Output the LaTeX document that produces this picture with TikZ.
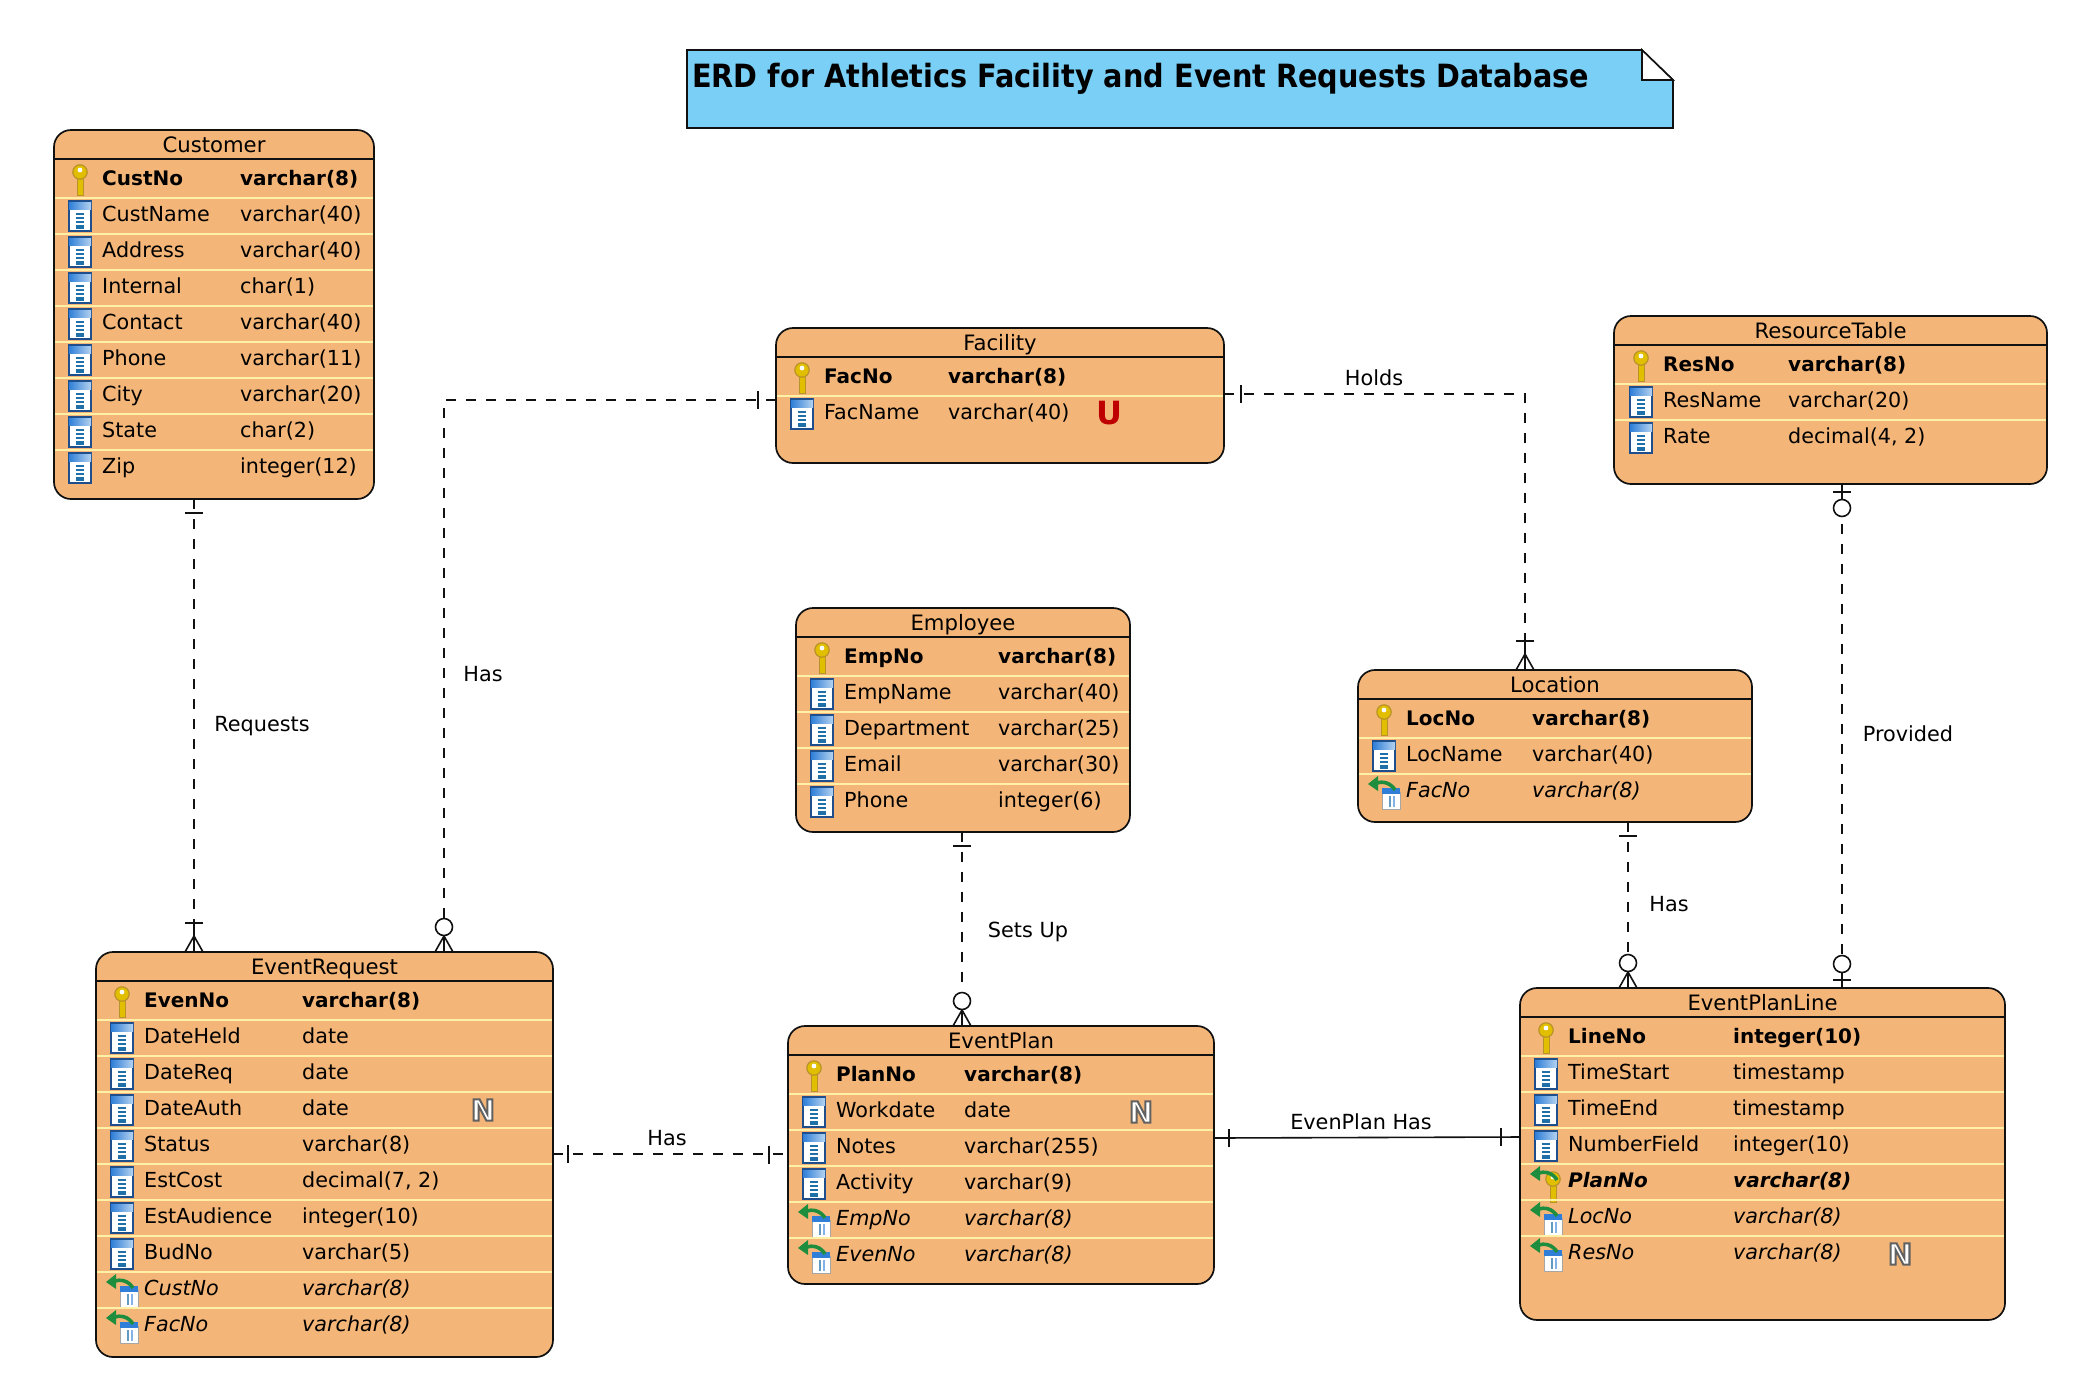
\documentclass[tikz,border=0pt]{standalone}
\usepackage{fontspec}
\setmainfont{DejaVu Sans}
\definecolor{tabfill}{HTML}{F4B678}
\definecolor{rowline}{HTML}{FFF0A8}
\definecolor{notefill}{HTML}{79CFF6}
\definecolor{inkline}{HTML}{111111}
\definecolor{iconblue}{HTML}{1F4E8C}
\definecolor{iconsky}{HTML}{2F7FD8}
\definecolor{iconpale}{HTML}{B4D2F0}
\definecolor{stripe}{HTML}{1F6FA8}
\definecolor{gold}{HTML}{E2BE00}
\definecolor{goldedge}{HTML}{B8922A}
\definecolor{leaf}{HTML}{1E8E3E}
\newcommand\rowfont{\fontsize{20.7}{24}\selectfont}
\newcommand\boldrowfont{\bfseries\fontsize{20}{24}\selectfont}
\newcommand\nullmark{\special{pdf:code q 2 Tr 2 w 0.38 0.38 0.38 RG 1 1 1 rg}N\special{pdf:code Q}}
\tikzset{
  x=1pt,y=-1pt,
  etable/.style={draw=inkline,line width=1.7pt,fill=tabfill,rounded corners=17pt,inner sep=0pt,outer sep=0pt},
  pk txt/.style={font=\boldrowfont,inner sep=0pt,text=black},
  col txt/.style={font=\rowfont,inner sep=0pt,text=black},
  fk txt/.style={font=\rowfont\itshape,inner sep=0pt,text=black},
  fkpk txt/.style={font=\boldrowfont\itshape,inner sep=0pt,text=black},
  hd txt/.style={font=\fontsize{21.2}{24}\selectfont,inner sep=0pt,text=black},
  lab/.style={font=\fontsize{20.8}{24}\selectfont,inner sep=0pt,text=black},
  conn/.style={draw=inkline,line width=1.6pt,dash pattern=on 10pt off 10pt},
  solidconn/.style={draw=inkline,line width=1.6pt},
  endmark/.style={draw=inkline,line width=1.6pt},
  pics/keyicon/.style={code={
    \fill[gold,draw=goldedge,line width=1pt] (-3,-8) rectangle (3,9);
    \fill[gold,draw=goldedge,line width=1.2pt] (0,-14) circle[radius=7.2];
    \fill[white] (0,-16) circle[radius=2.4];
  }},
  pics/pk/.style={code={\pic at (-22,0) {keyicon};}},
  pics/col/.style={code={
    \fill[white,draw=iconblue,line width=1.8pt] (-33,-21) rectangle (-11,9);
    \shade[left color=iconsky,right color=iconpale] (-33,-21) rectangle (-11,-13);
    \draw[iconblue,line width=1.2pt] (-33,-21) -- (-11,-21);
    \foreach \yy in {-9,-5,-1}{\fill[stripe] (-26,\yy) rectangle (-18,\yy+2);}
    \fill[stripe] (-26,3) rectangle (-18,7);
  }},
  pics/fkarrow/.style={code={
    \draw[leaf,line width=3.6pt] (-31,-14) .. controls (-24,-18) and (-15,-15) .. (-11,-8);
    \fill[leaf] (-38,-14) -- (-28,-22) -- (-28,-7) -- cycle;
  }},
  pics/fk/.style={code={
    \fill[white,draw=gray!70,line width=.8pt] (-24,-6) rectangle (-6,11);
    \fill[iconsky] (-24,-10) rectangle (-6,-4);
    \fill[stripe!70] (-17,-2) rectangle (-15,9);
    \fill[iconsky!60] (-13,-2) rectangle (-11,9);
    \pic {fkarrow};
  }},
  pics/fkpk/.style={code={
    \pic at (-15,5) {keyicon};
    \pic {fkarrow};
  }},
  pics/onebar/.style={code={\draw[endmark] (-9,14) -- (9,14);}},
  pics/zeroone/.style={code={
    \draw[endmark] (0,0) -- (0,16);
    \draw[endmark] (-9,8) -- (9,8);
    \draw[endmark,fill=white] (0,24) circle[radius=8.5];
  }},
  pics/onemany/.style={code={
    \draw[endmark] (-9,0) -- (0,16) -- (9,0);
    \draw[endmark] (0,0) -- (0,29);
    \draw[endmark] (-9,29) -- (9,29);
  }},
  pics/zeromany/.style={code={
    \draw[endmark] (-9,0) -- (0,16) -- (9,0);
    \draw[endmark] (0,0) -- (0,16);
    \draw[endmark,fill=white] (0,25) circle[radius=8.5];
  }},
}
% name, left, top, right, bottom, title, text x, type x, rows
\newcommand\ertable[9]{%
  \pgfmathsetmacro\cxx{(#2+#4)/2}\pgfmathsetmacro\cyy{(#3+#5)/2}%
  \pgfmathsetmacro\ww{#4-#2}\pgfmathsetmacro\hh{#5-#3}%
  \node[etable,minimum width=\ww pt,minimum height=\hh pt] (#1) at (\cxx,\cyy) {};
  \draw[inkline,line width=1.6pt] (#2,#3+29) -- (#4,#3+29);
  \node[hd txt,anchor=base] (#1-title) at (\cxx,#3+22) {#6};
  \foreach \k/\n/\t [count=\i] in {#9}{
    \pgfmathsetmacro\by{#3+55+36*(\i-1)}
    \pgfmathsetmacro\dy{#3+68+36*(\i-2)}
    \ifnum\i>1 \draw[rowline,line width=2pt] (#2+1,\dy) -- (#4-1,\dy);\fi
    \pic at (#7,\by+1) {\k};
    \node[\k\space txt,anchor=base west] (#1-n\i) at (#7,\by) {\n};
    \node[\k\space txt,anchor=base west] (#1-t\i) at (#8,\by) {\t};
  }
}
\begin{document}
\begin{tikzpicture}
\useasboundingbox (0,0) rectangle (2092,1382);
\fill[white] (0,0) rectangle (2092,1382);

% title note
\draw[inkline,line width=1.6pt,fill=notefill] (687,50) -- (1642,50) -- (1673,80) -- (1673,128) -- (687,128) -- cycle;
\draw[inkline,line width=1.6pt,fill=white] (1642,50) -- (1673,80) -- (1642,80) -- cycle;
\node[anchor=base west,inner sep=0pt,text=black] (title) at (692,87) {\resizebox{897pt}{\height}{\bfseries\fontsize{32}{36}\selectfont ERD for Athletics Facility and Event Requests Database}};

\ertable{cust}{54}{130}{374}{499}{Customer}{102}{240}{pk/CustNo/varchar(8),col/CustName/varchar(40),col/Address/varchar(40),col/Internal/char(1),col/Contact/varchar(40),col/Phone/varchar(11),col/City/varchar(20),col/State/char(2),col/Zip/integer(12)}
\ertable{fac}{776}{328}{1224}{463}{Facility}{824}{948}{pk/FacNo/varchar(8),col/FacName/varchar(40)}
\ertable{res}{1614}{316}{2047}{484}{ResourceTable}{1663}{1788}{pk/ResNo/varchar(8),col/ResName/varchar(20),col/Rate/{decimal(4, 2)}}
\ertable{emp}{796}{608}{1130}{832}{Employee}{844}{998}{pk/EmpNo/varchar(8),col/EmpName/varchar(40),col/Department/varchar(25),col/Email/varchar(30),col/Phone/integer(6)}
\ertable{loc}{1358}{670}{1752}{822}{Location}{1406}{1532}{pk/LocNo/varchar(8),col/LocName/varchar(40),fk/FacNo/varchar(8)}
\ertable{er}{96}{952}{553}{1357}{EventRequest}{144}{302}{pk/EvenNo/varchar(8),col/DateHeld/date,col/DateReq/date,col/DateAuth/date,col/Status/varchar(8),col/EstCost/{decimal(7, 2)},col/EstAudience/integer(10),col/BudNo/varchar(5),fk/CustNo/varchar(8),fk/FacNo/varchar(8)}
\ertable{ep}{788}{1026}{1214}{1284}{EventPlan}{836}{964}{pk/PlanNo/varchar(8),col/Workdate/date,col/Notes/varchar(255),col/Activity/varchar(9),fk/EmpNo/varchar(8),fk/EvenNo/varchar(8)}
\ertable{epl}{1520}{988}{2005}{1320}{EventPlanLine}{1568}{1733}{pk/LineNo/integer(10),col/TimeStart/timestamp,col/TimeEnd/timestamp,col/NumberField/integer(10),fkpk/PlanNo/varchar(8),fk/LocNo/varchar(8),fk/ResNo/varchar(8)}

% constraint markers
\node[inner sep=0pt,text=red!75!black,font=\bfseries\fontsize{32}{36}\selectfont] (mU) at (1109,413) {U};
\node[inner sep=0pt,font=\bfseries\fontsize{29}{30}\selectfont] (mN1) at (483,1110) {\nullmark};
\node[inner sep=0pt,font=\bfseries\fontsize{29}{30}\selectfont] (mN2) at (1141,1112) {\nullmark};
\node[inner sep=0pt,font=\bfseries\fontsize{29}{30}\selectfont] (mN3) at (1900,1254) {\nullmark};

% connectors
\draw[conn] ([xshift=-20pt]cust.south) -- ([xshift=-130.5pt]er.north);
\draw[conn] ([yshift=-4.5pt]fac.west) -| ([xshift=119.5pt]er.north);
\draw[conn] ([yshift=1.5pt]fac.east) -| ([xshift=-30pt]loc.north);
\draw[conn] ([xshift=11.5pt]res.south) -- ([xshift=79.5pt]epl.north);
\draw[conn] ([xshift=73pt]loc.south) -- ([xshift=-134.5pt]epl.north);
\draw[conn] ([xshift=-1pt]emp.south) -- ([xshift=-39pt]ep.north);
\draw[conn] ([yshift=0.5pt]er.east) -- ([yshift=1pt]ep.west);
\draw[solidconn] ([yshift=17pt]ep.east) -- ([yshift=17pt]epl.west);

% connector ends
\pic at ([xshift=-20pt]cust.south) {onebar};
\pic[yscale=-1] at ([xshift=-130.5pt]er.north) {onemany};
\pic[yscale=-1] at ([xshift=119.5pt]er.north) {zeromany};
\pic[yscale=-1] at ([xshift=-30pt]loc.north) {onemany};
\pic at ([xshift=11.5pt]res.south) {zeroone};
\pic[yscale=-1] at ([xshift=79.5pt]epl.north) {zeroone};
\pic at ([xshift=73pt]loc.south) {onebar};
\pic[yscale=-1] at ([xshift=-134.5pt]epl.north) {zeromany};
\pic at ([xshift=-1pt]emp.south) {onebar};
\pic[yscale=-1] at ([xshift=-39pt]ep.north) {zeromany};
\draw[endmark] ([xshift=-18pt,yshift=4.5pt]fac.west) -- ([xshift=-18pt,yshift=-13.5pt]fac.west);
\draw[endmark] ([xshift=17pt,yshift=10.5pt]fac.east) -- ([xshift=17pt,yshift=-7.5pt]fac.east);
\draw[endmark] ([xshift=15pt,yshift=9.5pt]er.east) -- ([xshift=15pt,yshift=-8.5pt]er.east);
\draw[endmark] ([xshift=-19pt,yshift=9pt]ep.west) -- ([xshift=-19pt,yshift=-9pt]ep.west);
\draw[endmark] ([xshift=15pt,yshift=26pt]ep.east) -- ([xshift=15pt,yshift=8pt]ep.east);
\draw[endmark] ([xshift=-19pt,yshift=26pt]epl.west) -- ([xshift=-19pt,yshift=8pt]epl.west);

% connector labels
\node[lab] (lreq) at (262,726) {Requests};
\node[lab] (lhas1) at (483,674) {Has};
\node[lab] (lholds) at (1374,378) {Holds};
\node[lab] (lprov) at (1908,734) {Provided};
\node[lab] (lhas2) at (1669,904) {Has};
\node[lab] (lsets) at (1028,932) {Sets Up};
\node[lab] (lhas3) at (667,1138) {Has};
\node[lab] (lplan) at (1361,1122) {EvenPlan Has};
\end{tikzpicture}
\end{document}
